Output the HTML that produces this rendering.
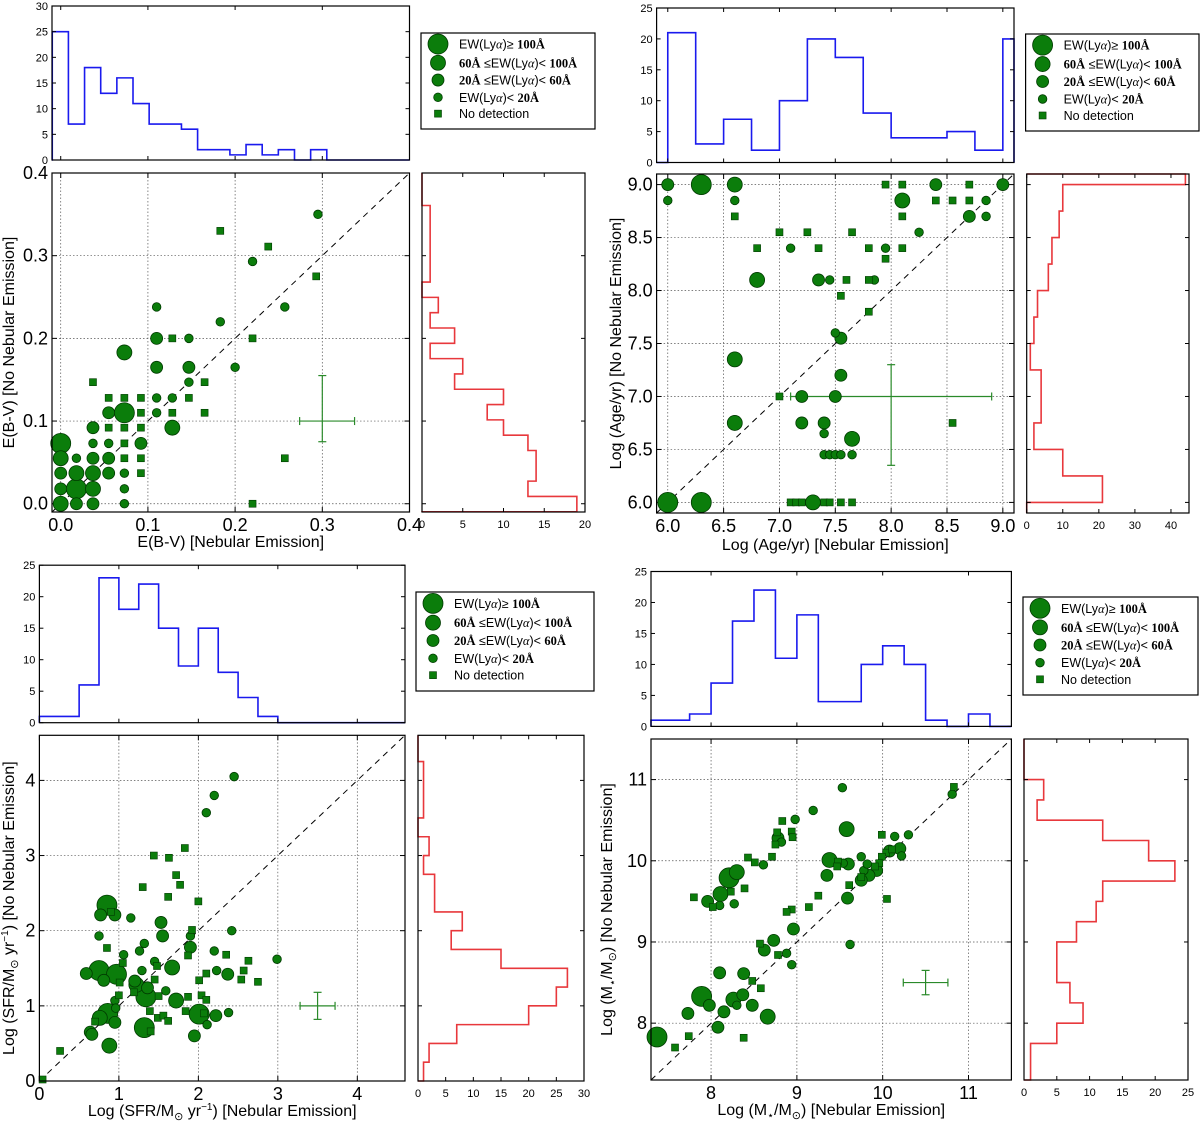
<!DOCTYPE html>
<html><head><meta charset="utf-8"><style>
html,body{margin:0;padding:0;background:#fff;}
svg{display:block;font-family:"Liberation Sans",sans-serif;}
</style></head><body>
<svg id="fig" width="1200" height="1121" viewBox="0 0 1200 1121" xmlns="http://www.w3.org/2000/svg"></svg>
<script>
// ---------- DATA ----------
// Panel A: E(B-V)
const ebvHistX = [25,7,18,13,16,11,7,7,6,2,2,1,3,1,2,0,2];
const ebvHistY = [19,13,14,14,13,10,8,10,4,5,1,4,1,2,0,1,1,1,1,1];
const ebvX = [0.295,0.183,0.238,0.22,0.293,0.257,0.11,0.183,0.11,0.128,0.147,0.22,0.073,0.11,0.147,0.2,0.037,0.147,0.165,
 0.055,0.073,0.092,0.11,0.128,0.147, 0.055,0.073,0.092,0.11,0.128,0.165, 0.037,0.055,0.073,0.092,0.128,
 0,0.037,0.055,0.073,0.092, 0,0.018,0.037,0.055,0.073,0.092,0.257, 0,0.018,0.037,0.055,0.073,0.092,
 0,0.018,0.037,0.073, 0,0.018,0.037,0.073,0.22];
const ebvY = [0.35,0.33,0.311,0.293,0.275,0.238,0.238,0.22,0.2,0.2,0.2,0.2,0.183,0.165,0.165,0.165,0.147,0.147,0.147,
 0.128,0.128,0.128,0.128,0.128,0.128, 0.11,0.11,0.11,0.11,0.11,0.11, 0.092,0.092,0.092,0.092,0.092,
 0.073,0.073,0.073,0.073,0.073, 0.055,0.055,0.055,0.055,0.055,0.055,0.055, 0.037,0.037,0.037,0.037,0.037,0.037,
 0.018,0.018,0.018,0.018, 0,0,0,0,0];
const ebvC = [3,4,4,3,4,3,3,3,2,4,3,4,1,2,2,3,4,3,4,
 4,4,4,3,3,4, 2,0,4,3,4,4, 2,4,4,4,1,
 0,3,3,4,2, 1,3,2,2,4,4,4, 2,1,1,2,3,4,
 2,0,1,3, 1,2,2,3,4];

// Panel B: Age
const ageHistX = [21,3,7,2,10,20,17,8,4,4,5,2,20];
const ageHistY = [21,10,2,4,4,1,2,3,6,7,9,10,44];
const ageX = [6.0,6.3,6.6,7.95,8.1,8.4,8.7,9.0, 6.0,6.6,8.1,8.4,8.55,8.7,8.85, 6.6,8.1,8.7,8.85, 7.0,7.25,7.65,8.25,
 6.8,7.1,7.35,7.8,7.95,8.1, 7.95, 6.8,7.35,7.45,7.6,7.8,7.85, 7.55,7.8,7.5,7.55,6.6,7.55, 7.0,7.2,7.5,
 6.6,7.2,7.4,8.55, 7.4,7.65, 7.4,7.45,7.5,7.55,7.65, 6.0,6.3,7.1,7.15,7.2,7.3,7.4,7.45,7.55,7.65];
const ageY = [9.0,9.0,9.0,9.0,9.0,9.0,9.0,9.0, 8.85,8.85,8.85,8.85,8.85,8.85,8.85, 8.7,8.7,8.7,8.7, 8.55,8.55,8.55,8.55,
 8.4,8.4,8.4,8.4,8.4,8.4, 8.3, 8.1,8.1,8.1,8.1,8.1,8.1, 7.95,7.8,7.6,7.55,7.35,7.2, 7.0,7.0,7.0,
 6.75,6.75,6.75,6.75, 6.65,6.6, 6.45,6.45,6.45,6.45,6.45, 6.0,6.0,6.0,6.0,6.0,6.0,6.0,6.0,6.0,6.0];
const ageC = [2,0,1,4,4,2,4,2, 3,3,1,4,4,4,3, 4,4,2,3, 4,4,4,3,
 4,3,4,4,3,4, 4, 1,2,3,4,4,3, 4,4,3,2,1,2, 4,2,2,
 1,2,2,4, 3,1, 3,3,3,3,3, 0,0,4,4,4,1,4,4,4,4];

// Panel C: SFR
const sfrHistX = [1,1,6,23,18,22,15,9,15,8,4,1];
const sfrHistY = [1,2,7,20,25,27,15,6,8,3,3,1,2,0,1,1,1];
const sfrX = [2.45,2.2,2.1,1.83,1.44,1.63,1.72,1.77,1.3,1.62,2.0,0.85,0.9,0.77,0.95,1.15,1.53,2.42,1.92,1.55,0.75,1.9,1.32,0.85,1.9,1.26,2.2,1.06,2.35,1.87,
 2.99,2.63,1.45,1.05,1.67,1.48,0.75,0.59,0.97,1.29,2.57,2.37,2.23,2.1,0.81,1.2,1.22,2.01,2.54,2.75,1.01,1.36,1.45,1.59,1.72,1.34,1.0,1.19,1.5,1.87,2.04,2.1,
 1.84,2.01,2.22,2.38,2.07,0.95,0.96,0.86,0.76,0.95,1.39,1.49,1.56,1.62,1.32,1.4,2.11,1.95,0.7,0.64,0.66,0.88,0.26,0.04];
const sfrY = [4.05,3.8,3.57,3.1,3.0,2.97,2.74,2.61,2.58,2.45,2.39,2.34,2.25,2.21,2.21,2.17,2.11,2.0,2.01,1.93,1.93,1.93,1.83,1.77,1.78,1.73,1.73,1.68,1.68,1.67,
 1.62,1.6,1.59,1.57,1.51,1.53,1.47,1.43,1.42,1.47,1.47,1.42,1.47,1.43,1.34,1.33,1.28,1.34,1.35,1.32,1.31,1.24,1.35,1.2,1.07,1.12,1.14,1.18,1.13,1.12,1.14,1.08,
 0.93,0.89,0.87,0.91,0.9,1.07,0.97,0.9,0.84,0.78,0.93,0.84,0.87,0.8,0.71,0.66,0.75,0.6,0.79,0.65,0.62,0.47,0.4,0.02];
const sfrC = [3,3,3,4,4,4,4,4,4,4,4,0,4,2,2,3,2,3,4,2,3,3,3,4,2,3,3,3,4,4,
 3,4,3,4,1,4,0,2,0,3,4,2,3,4,2,2,1,4,4,4,4,2,4,3,1,0,4,4,4,4,4,4,
 4,0,2,3,4,3,3,0,1,2,4,4,4,4,0,4,3,2,4,2,2,1,4,4];

// Panel D: Mass
const massHistX = [1,1,2,7,17,22,11,18,4,4,10,13,10,1,0,2];
const massHistY = [1,1,5,9,7,5,5,8,11,12,23,19,12,2,3];
const massX = [10.81,10.83,9.53,9.19,8.98,8.83,9.58,8.77,8.78,8.94,8.95,8.82,8.75,10.14,9.99,10.3,10.2,9.38,9.48,9.47,9.54,9.75,8.71,8.43,8.51,8.61,
 10.22,10.08,10.04,9.99,9.96,9.91,9.93,10.11,9.84,9.78,9.75,9.61,9.82,9.59,9.75,8.21,8.11,8.3,9.35,8.39,8.27,7.96,7.8,8.02,8.1,8.23,
 9.6,10.05,9.25,9.14,8.94,8.88,8.96,8.73,8.57,8.62,9.62,8.88,8.78,8.94,8.1,8.38,8.48,8.58,7.89,7.98,7.73,8.26,8.37,8.3,8.48,8.66,8.15,8.08,7.74,8.38,7.58,7.37];
const massY = [10.82,10.91,10.9,10.62,10.51,10.49,10.39,10.35,10.28,10.36,10.29,10.23,10.2,10.3,10.32,10.32,10.15,10.01,9.99,9.93,9.97,10.05,10.05,10.04,9.98,9.95,
 10.06,10.12,10.1,10.05,9.97,9.93,9.88,10.14,9.82,9.88,9.76,9.7,9.96,9.54,9.8,9.79,9.59,9.86,9.82,9.66,9.47,9.5,9.55,9.43,9.45,9.62,
 9.96,9.53,9.57,9.43,9.4,9.37,9.16,9.02,8.98,8.9,8.97,8.86,8.84,8.72,8.62,8.61,8.52,8.43,8.33,8.22,8.12,8.29,8.35,8.22,8.22,8.08,8.14,7.95,7.84,7.82,7.7,7.83];
const massC = [3,4,3,3,3,4,1,4,2,4,4,3,4,3,4,3,2,1,4,4,3,3,4,4,4,3,
 3,2,4,4,4,4,2,4,2,3,2,4,3,2,4,0,1,1,2,4,3,2,4,4,3,4,
 2,4,4,4,4,4,2,2,4,2,3,3,4,3,2,2,4,4,0,2,2,1,2,3,2,1,2,2,4,4,4,0];

// ---------- DRAW ----------
const S = document.getElementById('fig');
const NS = 'http://www.w3.org/2000/svg';
function mk(tag, attrs, parent){ const e=document.createElementNS(NS,tag); for(const k in attrs) e.setAttribute(k,attrs[k]); (parent||S).appendChild(e); return e; }
const GREEN='#0b7d0b', EDGE='#003a00';
const RAD=[10,7.5,6,4.3];

function marker(g,x,y,c){
  let m;
  if(c===4){ m=mk('rect',{x:x-3.5,y:y-3.5,width:7,height:7,fill:GREEN,stroke:EDGE,'stroke-width':0.6},g); }
  else { m=mk('circle',{cx:x,cy:y,r:RAD[c],fill:GREEN,stroke:EDGE,'stroke-width':0.8},g); }
  return m;
}

function axisBox(x0,y0,x1,y1,name){
  const r=mk('rect',{x:x0,y:y0,width:x1-x0,height:y1-y0,fill:'none',stroke:'#000','stroke-width':1.2});
  
  
}

function panel(P){
  const g=mk('g',{});
  
  
  const sx=v=>P.sc[0]+(v-P.lo)/(P.hi-P.lo)*(P.sc[2]-P.sc[0]);
  const sy=v=>P.sc[3]-(v-P.lo)/(P.hi-P.lo)*(P.sc[3]-P.sc[1]);
  P.ticks.forEach(t=>{
    const gx=mk('line',{x1:sx(t),x2:sx(t),y1:P.sc[1],y2:P.sc[3],stroke:'#555','stroke-width':0.7,'stroke-dasharray':'1.5,2'},g);
     
    const gy=mk('line',{x1:P.sc[0],x2:P.sc[2],y1:sy(t),y2:sy(t),stroke:'#555','stroke-width':0.7,'stroke-dasharray':'1.5,2'},g);
     
    mk('line',{x1:sx(t),x2:sx(t),y1:P.sc[3],y2:P.sc[3]-5,stroke:'#000'},g);
    mk('line',{x1:sx(t),x2:sx(t),y1:P.sc[1],y2:P.sc[1]+5,stroke:'#000'},g);
    mk('line',{x1:P.sc[0],x2:P.sc[0]+5,y1:sy(t),y2:sy(t),stroke:'#000'},g);
    mk('line',{x1:P.sc[2],x2:P.sc[2]-5,y1:sy(t),y2:sy(t),stroke:'#000'},g);
    const tl=mk('text',{x:sx(t),y:P.sc[3]+19,'font-size':18,'text-anchor':'middle'},g); tl.textContent=P.fmt(t);
     
    const yl=mk('text',{x:P.sc[0]-4,y:sy(t)+6,'font-size':18,'text-anchor':'end'},g); yl.textContent=P.fmt(t);
     
  });
  const dl=mk('line',{x1:sx(P.lo),y1:sy(P.lo),x2:sx(P.hi),y2:sy(P.hi),stroke:'#000','stroke-width':1,'stroke-dasharray':'6,5'},g);
   
  const e=P.err;
  const eg=mk('g',{stroke:'#2a8a2a','stroke-width':1.2},g);
   
  mk('line',{x1:sx(e[0]-e[2]),x2:sx(e[0]+e[3]),y1:sy(e[1]),y2:sy(e[1])},eg);
  mk('line',{x1:sx(e[0]),x2:sx(e[0]),y1:sy(e[1]-e[4]),y2:sy(e[1]+e[5])},eg);
  mk('line',{x1:sx(e[0]-e[2]),x2:sx(e[0]-e[2]),y1:sy(e[1])-4,y2:sy(e[1])+4},eg);
  mk('line',{x1:sx(e[0]+e[3]),x2:sx(e[0]+e[3]),y1:sy(e[1])-4,y2:sy(e[1])+4},eg);
  mk('line',{x1:sx(e[0])-4,x2:sx(e[0])+4,y1:sy(e[1]-e[4]),y2:sy(e[1]-e[4])},eg);
  mk('line',{x1:sx(e[0])-4,x2:sx(e[0])+4,y1:sy(e[1]+e[5]),y2:sy(e[1]+e[5])},eg);
  const idx=P.x.map((_,i)=>i).sort((a,b)=>P.c[a]-P.c[b]);
  idx.forEach(i=>{
    const m=marker(g,sx(P.x[i]),sy(P.y[i]),P.c[i]);
    
    
  });
  axisBox(P.sc[0],P.sc[1],P.sc[2],P.sc[3],P.name+'-scatter-axes');
  const xt=mk('text',{x:(P.sc[0]+P.sc[2])/2,y:P.sc[3]+P.xto,'font-size':16,'text-anchor':'middle'},g);
  xt.innerHTML=P.xlab;
   
  const cy=(P.sc[1]+P.sc[3])/2;
  const yt=mk('text',{x:P.ylx,y:cy,'font-size':16,'text-anchor':'middle',transform:`rotate(-90 ${P.ylx} ${cy})`},g);
  yt.innerHTML=P.ylab;
   

  // top histogram
  const T=P.th;
  const tx=v=>T[0]+(v-P.lo)/(P.hi-P.lo)*(T[2]-T[0]);
  const ty=v=>T[3]-v/P.thMax*(T[3]-T[1]);
  const s0=Math.max(P.hStart,P.lo);
  let d=`M${T[0]},${ty(0)} L${tx(s0)},${ty(0)}`;
  P.hx.forEach((c,i)=>{
    const a=Math.max(P.hStart+i*P.hW,P.lo), b=Math.min(P.hStart+(i+1)*P.hW,P.hi);
    d+=` L${tx(a)},${ty(c)} L${tx(b)},${ty(c)}`;
  });
  d+=` L${tx(Math.min(P.hStart+P.hx.length*P.hW,P.hi))},${ty(0)} L${T[2]},${ty(0)}`;
  const hp=mk('path',{d:d,fill:'none',stroke:'#1a1aee','stroke-width':1.6},g);
   
  for(let v=0; v<=P.thMax; v+=5){
    mk('line',{x1:T[0],x2:T[0]+4,y1:ty(v),y2:ty(v),stroke:'#000'},g);
    mk('line',{x1:T[2],x2:T[2]-4,y1:ty(v),y2:ty(v),stroke:'#000'},g);
    const l=mk('text',{x:T[0]-4,y:ty(v)+4,'font-size':11,'text-anchor':'end'},g); l.textContent=v;
     
  }
  P.ticks.forEach(t=>{ mk('line',{x1:tx(t),x2:tx(t),y1:T[3],y2:T[3]-4,stroke:'#000'},g); mk('line',{x1:tx(t),x2:tx(t),y1:T[1],y2:T[1]+4,stroke:'#000'},g);});
  axisBox(T[0],T[1],T[2],T[3],P.name+'-top-histogram-axes');

  // right histogram
  const R=P.rh;
  const rx=v=>R[0]+v/P.rhMax*(R[2]-R[0]);
  const ry=v=>R[3]-(v-P.lo)/(P.hi-P.lo)*(R[3]-R[1]);
  let d2=`M${rx(0)},${R[3]} L${rx(0)},${ry(s0)}`;
  P.hy.forEach((c,i)=>{
    const a=Math.max(P.hStart+i*P.hW,P.lo), b=Math.min(P.hStart+(i+1)*P.hW,P.hi);
    d2+=` L${rx(c)},${ry(a)} L${rx(c)},${ry(b)}`;
  });
  d2+=` L${rx(0)},${ry(Math.min(P.hStart+P.hy.length*P.hW,P.hi))} L${rx(0)},${R[1]}`;
  const rp=mk('path',{d:d2,fill:'none',stroke:'#e8383c','stroke-width':1.6},g);
   
  P.rTicks.forEach(v=>{
    mk('line',{x1:rx(v),x2:rx(v),y1:R[3],y2:R[3]-4,stroke:'#000'},g);
    mk('line',{x1:rx(v),x2:rx(v),y1:R[1],y2:R[1]+4,stroke:'#000'},g);
    const l=mk('text',{x:rx(v),y:R[3]+16,'font-size':11,'text-anchor':'middle'},g); l.textContent=v;
     
  });
  P.ticks.forEach(t=>{ mk('line',{x1:R[0],x2:R[0]+4,y1:ry(t),y2:ry(t),stroke:'#000'},g); mk('line',{x1:R[2],x2:R[2]-4,y1:ry(t),y2:ry(t),stroke:'#000'},g);});
  axisBox(R[0],R[1],R[2],R[3],P.name+'-right-histogram-axes');

  if(P.lg){
    const L=P.lg;
    const lg=mk('g',{},g);
     
    mk('rect',{x:L[0],y:L[1],width:L[2]-L[0],height:L[3]-L[1],fill:'#fff',stroke:'#000','stroke-width':1.2},lg);
    const labs=['EW(Ly<tspan font-family="Liberation Serif" font-style="italic">α</tspan>)≥ <tspan font-family="Liberation Serif" font-weight="bold">100Å</tspan>',
      '<tspan font-family="Liberation Serif" font-weight="bold">60Å</tspan> ≤EW(Ly<tspan font-family="Liberation Serif" font-style="italic">α</tspan>)&lt; <tspan font-family="Liberation Serif" font-weight="bold">100Å</tspan>',
      '<tspan font-family="Liberation Serif" font-weight="bold">20Å</tspan> ≤EW(Ly<tspan font-family="Liberation Serif" font-style="italic">α</tspan>)&lt; <tspan font-family="Liberation Serif" font-weight="bold">60Å</tspan>',
      'EW(Ly<tspan font-family="Liberation Serif" font-style="italic">α</tspan>)&lt; <tspan font-family="Liberation Serif" font-weight="bold">20Å</tspan>',
      'No detection'];
    const h=(L[3]-L[1]);
    const ys=[0.115,0.31,0.49,0.67,0.84].map(f=>L[1]+f*h);
    labs.forEach((s,i)=>{
      const m=marker(lg,L[0]+17,ys[i],i);
       
      const t=mk('text',{x:L[0]+38,y:ys[i]+4.5,'font-size':12.5},lg);
      t.innerHTML=s;
       
    });
  }
}

panel({name:'ebv',lo:-0.01,hi:0.4,ticks:[0,0.1,0.2,0.3,0.4],fmt:t=>t.toFixed(1),
  sc:[52,173,409.5,512],th:[52,6,409.5,160],thMax:30,rh:[422,173,585,512],rhMax:20,rTicks:[0,5,10,15,20],
  hStart:-0.0097,hW:0.01852,hx:ebvHistX,hy:ebvHistY,x:ebvX,y:ebvY,c:ebvC,err:[0.3,0.1,0.026,0.037,0.025,0.055],
  xlab:'E(B-V) [Nebular Emission]',ylab:'E(B-V) [No Nebular Emission]',ylx:14,xto:35,lg:[421,33,595,129]});
panel({name:'age',lo:5.9,hi:9.1,ticks:[6,6.5,7,7.5,8,8.5,9],fmt:t=>t.toFixed(1),
  sc:[656.6,174,1014,513],th:[656.6,8,1014,162.5],thMax:25,rh:[1026.7,174,1189,513],rhMax:45,rTicks:[0,10,20,30,40],
  hStart:6.0,hW:0.25,hx:ageHistX,hy:ageHistY,x:ageX,y:ageY,c:ageC,err:[8.0,7.0,0.9,0.9,0.65,0.3],
  xlab:'Log (Age/yr) [Nebular Emission]',ylab:'Log (Age/yr) [No Nebular Emission]',ylx:621,xto:37,lg:[1025.6,34,1199,131]});
panel({name:'sfr',lo:0,hi:4.6,ticks:[0,1,2,3,4],fmt:t=>String(t),
  sc:[39.4,735.3,405,1081],th:[39.4,565.2,405,722.7],thMax:25,rh:[418,735.3,584,1081],rhMax:30,rTicks:[0,5,10,15,20,25,30],
  hStart:0,hW:0.25,hx:sfrHistX,hy:sfrHistY,x:sfrX,y:sfrY,c:sfrC,err:[3.5,1.0,0.22,0.22,0.18,0.18],
  xlab:'Log (SFR/M<tspan font-size="11" dy="4">⊙</tspan><tspan dy="-4"> yr</tspan><tspan font-size="10" dy="-6">−1</tspan><tspan dy="6">) [Nebular Emission]</tspan>',
  ylab:'Log (SFR/M<tspan font-size="11" dy="4">⊙</tspan><tspan dy="-4"> yr</tspan><tspan font-size="10" dy="-6">−1</tspan><tspan dy="6">) [No Nebular Emission]</tspan>',ylx:14,xto:35,lg:[416,592,594,691]});
panel({name:'mass',lo:7.3,hi:11.5,ticks:[8,9,10,11],fmt:t=>String(t),
  sc:[651,739,1011.4,1080],th:[651,571.5,1011.4,726.4],thMax:25,rh:[1024,739,1188,1080],rhMax:25,rTicks:[0,5,10,15,20,25],
  hStart:7.25,hW:0.25,hx:massHistX,hy:massHistY,x:massX,y:massY,c:massC,err:[10.5,8.5,0.26,0.26,0.15,0.15],
  xlab:'Log (M<tspan font-size="11" dy="4">⋆</tspan><tspan dy="-4">/M</tspan><tspan font-size="11" dy="4">⊙</tspan><tspan dy="-4">) [Nebular Emission]</tspan>',
  ylab:'Log (M<tspan font-size="11" dy="4">⋆</tspan><tspan dy="-4">/M</tspan><tspan font-size="11" dy="4">⊙</tspan><tspan dy="-4">) [No Nebular Emission]</tspan>',ylx:612,xto:35,lg:[1023,597,1198,695]});
</script>
</body></html>
